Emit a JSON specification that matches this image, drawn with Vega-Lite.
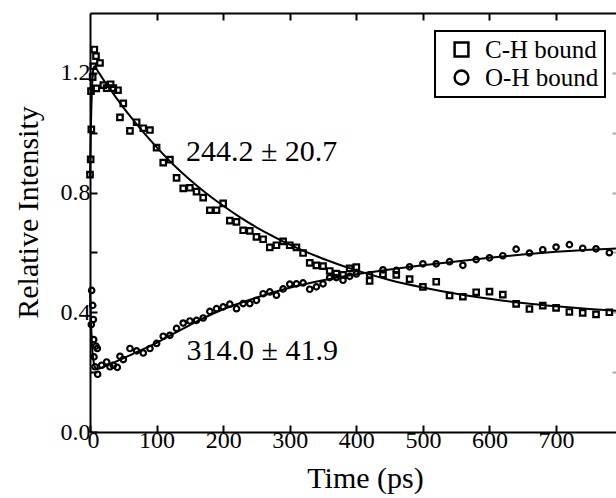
{
  "$schema": "https://vega.github.io/schema/vega-lite/v6.json",
  "width": 526,
  "height": 419,
  "autosize": {"type": "none"},
  "padding": {"left": 90, "top": 13, "right": 0, "bottom": 66},
  "background": "white",
  "config": {
    "view": {"stroke": null},
    "font": "Liberation Serif, serif",
    "axis": {
      "domainColor": "black", "domainWidth": 2,
      "tickColor": "black", "tickWidth": 2, "tickSize": -7,
      "labelFont": "Liberation Serif, serif", "labelFontSize": 24, "labelColor": "black",
      "titleFont": "Liberation Serif, serif", "titleFontSize": 30, "titleFontWeight": "normal", "titleColor": "black",
      "grid": false, "labelOverlap": false, "labelBound": false, "labelFlush": false
    },
    "legend": {
      "labelFont": "Liberation Serif, serif", "labelFontSize": 25, "labelColor": "black",
      "strokeColor": "black", "strokeWidth": 2
    }
  },
  "datasets": {
    "pts": [
      {"t": 0, "v": 0.86, "s": "C-H bound"},
      {"t": 1, "v": 0.911, "s": "C-H bound"},
      {"t": 2, "v": 1.011, "s": "C-H bound"},
      {"t": 1.5, "v": 1.139, "s": "C-H bound"},
      {"t": 4, "v": 1.186, "s": "C-H bound"},
      {"t": 5, "v": 1.222, "s": "C-H bound"},
      {"t": 6.5, "v": 1.278, "s": "C-H bound"},
      {"t": 9, "v": 1.256, "s": "C-H bound"},
      {"t": 9.5, "v": 1.148, "s": "C-H bound"},
      {"t": 15, "v": 1.233, "s": "C-H bound"},
      {"t": 20, "v": 1.159, "s": "C-H bound"},
      {"t": 25, "v": 1.149, "s": "C-H bound"},
      {"t": 31, "v": 1.162, "s": "C-H bound"},
      {"t": 35, "v": 1.149, "s": "C-H bound"},
      {"t": 42, "v": 1.142, "s": "C-H bound"},
      {"t": 45, "v": 1.051, "s": "C-H bound"},
      {"t": 50, "v": 1.098, "s": "C-H bound"},
      {"t": 60, "v": 1.006, "s": "C-H bound"},
      {"t": 70, "v": 1.035, "s": "C-H bound"},
      {"t": 80, "v": 1.015, "s": "C-H bound"},
      {"t": 90, "v": 1.009, "s": "C-H bound"},
      {"t": 100, "v": 0.95, "s": "C-H bound"},
      {"t": 110, "v": 0.9, "s": "C-H bound"},
      {"t": 120, "v": 0.91, "s": "C-H bound"},
      {"t": 130, "v": 0.849, "s": "C-H bound"},
      {"t": 140, "v": 0.814, "s": "C-H bound"},
      {"t": 150, "v": 0.816, "s": "C-H bound"},
      {"t": 160, "v": 0.803, "s": "C-H bound"},
      {"t": 170, "v": 0.783, "s": "C-H bound"},
      {"t": 180, "v": 0.741, "s": "C-H bound"},
      {"t": 190, "v": 0.741, "s": "C-H bound"},
      {"t": 200, "v": 0.764, "s": "C-H bound"},
      {"t": 210, "v": 0.706, "s": "C-H bound"},
      {"t": 220, "v": 0.702, "s": "C-H bound"},
      {"t": 230, "v": 0.674, "s": "C-H bound"},
      {"t": 240, "v": 0.672, "s": "C-H bound"},
      {"t": 250, "v": 0.652, "s": "C-H bound"},
      {"t": 260, "v": 0.644, "s": "C-H bound"},
      {"t": 270, "v": 0.617, "s": "C-H bound"},
      {"t": 280, "v": 0.624, "s": "C-H bound"},
      {"t": 290, "v": 0.637, "s": "C-H bound"},
      {"t": 300, "v": 0.624, "s": "C-H bound"},
      {"t": 310, "v": 0.617, "s": "C-H bound"},
      {"t": 320, "v": 0.598, "s": "C-H bound"},
      {"t": 330, "v": 0.565, "s": "C-H bound"},
      {"t": 340, "v": 0.557, "s": "C-H bound"},
      {"t": 350, "v": 0.554, "s": "C-H bound"},
      {"t": 360, "v": 0.538, "s": "C-H bound"},
      {"t": 370, "v": 0.529, "s": "C-H bound"},
      {"t": 380, "v": 0.525, "s": "C-H bound"},
      {"t": 390, "v": 0.547, "s": "C-H bound"},
      {"t": 400, "v": 0.551, "s": "C-H bound"},
      {"t": 420, "v": 0.505, "s": "C-H bound"},
      {"t": 440, "v": 0.527, "s": "C-H bound"},
      {"t": 460, "v": 0.525, "s": "C-H bound"},
      {"t": 480, "v": 0.511, "s": "C-H bound"},
      {"t": 500, "v": 0.485, "s": "C-H bound"},
      {"t": 520, "v": 0.502, "s": "C-H bound"},
      {"t": 540, "v": 0.456, "s": "C-H bound"},
      {"t": 560, "v": 0.452, "s": "C-H bound"},
      {"t": 580, "v": 0.467, "s": "C-H bound"},
      {"t": 600, "v": 0.469, "s": "C-H bound"},
      {"t": 620, "v": 0.459, "s": "C-H bound"},
      {"t": 640, "v": 0.428, "s": "C-H bound"},
      {"t": 660, "v": 0.411, "s": "C-H bound"},
      {"t": 680, "v": 0.422, "s": "C-H bound"},
      {"t": 700, "v": 0.415, "s": "C-H bound"},
      {"t": 720, "v": 0.401, "s": "C-H bound"},
      {"t": 740, "v": 0.398, "s": "C-H bound"},
      {"t": 760, "v": 0.393, "s": "C-H bound"},
      {"t": 780, "v": 0.4, "s": "C-H bound"},
      {"t": 2.5, "v": 0.473, "s": "O-H bound"},
      {"t": 4, "v": 0.423, "s": "O-H bound"},
      {"t": 5, "v": 0.376, "s": "O-H bound"},
      {"t": 2, "v": 0.359, "s": "O-H bound"},
      {"t": 5.5, "v": 0.309, "s": "O-H bound"},
      {"t": 9, "v": 0.287, "s": "O-H bound"},
      {"t": 11, "v": 0.279, "s": "O-H bound"},
      {"t": 6, "v": 0.251, "s": "O-H bound"},
      {"t": 7.5, "v": 0.218, "s": "O-H bound"},
      {"t": 11.5, "v": 0.193, "s": "O-H bound"},
      {"t": 17.5, "v": 0.223, "s": "O-H bound"},
      {"t": 25, "v": 0.234, "s": "O-H bound"},
      {"t": 30, "v": 0.218, "s": "O-H bound"},
      {"t": 35, "v": 0.223, "s": "O-H bound"},
      {"t": 41, "v": 0.216, "s": "O-H bound"},
      {"t": 45, "v": 0.253, "s": "O-H bound"},
      {"t": 50, "v": 0.242, "s": "O-H bound"},
      {"t": 60, "v": 0.279, "s": "O-H bound"},
      {"t": 70, "v": 0.271, "s": "O-H bound"},
      {"t": 80, "v": 0.264, "s": "O-H bound"},
      {"t": 90, "v": 0.279, "s": "O-H bound"},
      {"t": 100, "v": 0.296, "s": "O-H bound"},
      {"t": 110, "v": 0.32, "s": "O-H bound"},
      {"t": 120, "v": 0.323, "s": "O-H bound"},
      {"t": 130, "v": 0.346, "s": "O-H bound"},
      {"t": 140, "v": 0.364, "s": "O-H bound"},
      {"t": 150, "v": 0.371, "s": "O-H bound"},
      {"t": 160, "v": 0.373, "s": "O-H bound"},
      {"t": 170, "v": 0.381, "s": "O-H bound"},
      {"t": 180, "v": 0.403, "s": "O-H bound"},
      {"t": 190, "v": 0.412, "s": "O-H bound"},
      {"t": 200, "v": 0.418, "s": "O-H bound"},
      {"t": 210, "v": 0.427, "s": "O-H bound"},
      {"t": 220, "v": 0.412, "s": "O-H bound"},
      {"t": 230, "v": 0.429, "s": "O-H bound"},
      {"t": 240, "v": 0.429, "s": "O-H bound"},
      {"t": 250, "v": 0.44, "s": "O-H bound"},
      {"t": 260, "v": 0.462, "s": "O-H bound"},
      {"t": 270, "v": 0.468, "s": "O-H bound"},
      {"t": 280, "v": 0.457, "s": "O-H bound"},
      {"t": 290, "v": 0.478, "s": "O-H bound"},
      {"t": 300, "v": 0.494, "s": "O-H bound"},
      {"t": 310, "v": 0.495, "s": "O-H bound"},
      {"t": 320, "v": 0.498, "s": "O-H bound"},
      {"t": 330, "v": 0.477, "s": "O-H bound"},
      {"t": 340, "v": 0.485, "s": "O-H bound"},
      {"t": 350, "v": 0.495, "s": "O-H bound"},
      {"t": 360, "v": 0.516, "s": "O-H bound"},
      {"t": 370, "v": 0.516, "s": "O-H bound"},
      {"t": 380, "v": 0.507, "s": "O-H bound"},
      {"t": 390, "v": 0.52, "s": "O-H bound"},
      {"t": 400, "v": 0.528, "s": "O-H bound"},
      {"t": 420, "v": 0.525, "s": "O-H bound"},
      {"t": 440, "v": 0.542, "s": "O-H bound"},
      {"t": 460, "v": 0.54, "s": "O-H bound"},
      {"t": 480, "v": 0.552, "s": "O-H bound"},
      {"t": 500, "v": 0.562, "s": "O-H bound"},
      {"t": 520, "v": 0.562, "s": "O-H bound"},
      {"t": 540, "v": 0.569, "s": "O-H bound"},
      {"t": 560, "v": 0.557, "s": "O-H bound"},
      {"t": 580, "v": 0.576, "s": "O-H bound"},
      {"t": 600, "v": 0.582, "s": "O-H bound"},
      {"t": 620, "v": 0.589, "s": "O-H bound"},
      {"t": 640, "v": 0.611, "s": "O-H bound"},
      {"t": 660, "v": 0.598, "s": "O-H bound"},
      {"t": 680, "v": 0.609, "s": "O-H bound"},
      {"t": 700, "v": 0.618, "s": "O-H bound"},
      {"t": 720, "v": 0.626, "s": "O-H bound"},
      {"t": 740, "v": 0.614, "s": "O-H bound"},
      {"t": 760, "v": 0.612, "s": "O-H bound"},
      {"t": 780, "v": 0.599, "s": "O-H bound"}
    ],
    "fit": [
      {"t": 0, "v": 0.85, "s": "CH"},
      {"t": 1, "v": 0.98, "s": "CH"},
      {"t": 2, "v": 1.08, "s": "CH"},
      {"t": 3, "v": 1.15, "s": "CH"},
      {"t": 4, "v": 1.19, "s": "CH"},
      {"t": 5, "v": 1.213, "s": "CH"},
      {"t": 7, "v": 1.222, "s": "CH"},
      {"t": 10, "v": 1.212, "s": "CH"},
      {"t": 20, "v": 1.178, "s": "CH"},
      {"t": 30, "v": 1.146, "s": "CH"},
      {"t": 40, "v": 1.115, "s": "CH"},
      {"t": 50, "v": 1.085, "s": "CH"},
      {"t": 60, "v": 1.056, "s": "CH"},
      {"t": 80, "v": 1.002, "s": "CH"},
      {"t": 100, "v": 0.952, "s": "CH"},
      {"t": 125, "v": 0.894, "s": "CH"},
      {"t": 150, "v": 0.843, "s": "CH"},
      {"t": 175, "v": 0.797, "s": "CH"},
      {"t": 200, "v": 0.756, "s": "CH"},
      {"t": 225, "v": 0.718, "s": "CH"},
      {"t": 250, "v": 0.684, "s": "CH"},
      {"t": 275, "v": 0.654, "s": "CH"},
      {"t": 300, "v": 0.626, "s": "CH"},
      {"t": 350, "v": 0.579, "s": "CH"},
      {"t": 400, "v": 0.54, "s": "CH"},
      {"t": 450, "v": 0.508, "s": "CH"},
      {"t": 500, "v": 0.483, "s": "CH"},
      {"t": 550, "v": 0.462, "s": "CH"},
      {"t": 600, "v": 0.445, "s": "CH"},
      {"t": 650, "v": 0.431, "s": "CH"},
      {"t": 700, "v": 0.42, "s": "CH"},
      {"t": 750, "v": 0.411, "s": "CH"},
      {"t": 790, "v": 0.405, "s": "CH"},
      {"t": 0, "v": 0.47, "s": "OH"},
      {"t": 1, "v": 0.4, "s": "OH"},
      {"t": 2, "v": 0.34, "s": "OH"},
      {"t": 3, "v": 0.29, "s": "OH"},
      {"t": 4, "v": 0.26, "s": "OH"},
      {"t": 6, "v": 0.228, "s": "OH"},
      {"t": 8, "v": 0.214, "s": "OH"},
      {"t": 10, "v": 0.21, "s": "OH"},
      {"t": 25, "v": 0.222, "s": "OH"},
      {"t": 50, "v": 0.246, "s": "OH"},
      {"t": 75, "v": 0.272, "s": "OH"},
      {"t": 100, "v": 0.298, "s": "OH"},
      {"t": 125, "v": 0.328, "s": "OH"},
      {"t": 150, "v": 0.357, "s": "OH"},
      {"t": 175, "v": 0.385, "s": "OH"},
      {"t": 200, "v": 0.41, "s": "OH"},
      {"t": 250, "v": 0.449, "s": "OH"},
      {"t": 300, "v": 0.482, "s": "OH"},
      {"t": 350, "v": 0.507, "s": "OH"},
      {"t": 400, "v": 0.527, "s": "OH"},
      {"t": 450, "v": 0.543, "s": "OH"},
      {"t": 500, "v": 0.557, "s": "OH"},
      {"t": 550, "v": 0.57, "s": "OH"},
      {"t": 600, "v": 0.582, "s": "OH"},
      {"t": 650, "v": 0.593, "s": "OH"},
      {"t": 700, "v": 0.602, "s": "OH"},
      {"t": 750, "v": 0.609, "s": "OH"},
      {"t": 790, "v": 0.613, "s": "OH"}
    ],
    "ann": [
      {"t": 144, "v": 0.907, "label": "244.2 ± 20.7"},
      {"t": 145, "v": 0.24, "label": "314.0 ± 41.9"}
    ]
  },
  "layer": [
    {
      "data": {"name": "fit"},
      "mark": {"type": "line", "color": "black", "strokeWidth": 2, "interpolate": "monotone"},
      "encoding": {
        "x": {
          "field": "t", "type": "quantitative",
          "scale": {"domain": [0, 790], "nice": false, "zero": false},
          "axis": {
            "orient": "bottom", "title": "Time (ps)",
            "values": [0, 100, 200, 300, 400, 500, 600, 700],
            "labelPadding": 3,
            "labelOffset": {"condition": {"test": "datum.value == 0", "value": 3}, "value": 0},
            "titleX": 275, "titleY": 55, "titleBaseline": "alphabetic", "titleAlign": "center"
          }
        },
        "y": {
          "field": "v", "type": "quantitative",
          "scale": {"domain": [0, 1.4], "nice": false, "zero": false},
          "axis": {
            "orient": "left", "title": "Relative Intensity",
            "values": [0, 0.2, 0.4, 0.6, 0.8, 1.0, 1.2],
            "labelExpr": "datum.value == 0 || datum.value == 0.4 || datum.value == 0.8 || datum.value == 1.2 ? format(datum.value, '.1f') : ''",
            "labelPadding": 7,
            "titleX": -62, "titleY": 199, "titleBaseline": "middle", "titleAlign": "center", "titleAngle": 270
          }
        },
        "detail": {"field": "s"}
      }
    },
    {
      "data": {"name": "pts"},
      "mark": {"type": "point", "filled": false, "stroke": "black", "strokeWidth": 2.2, "size": 30, "opacity": 1},
      "encoding": {
        "x": {
          "field": "t", "type": "quantitative",
          "axis": {"orient": "top", "labels": false, "title": null, "values": [100, 200, 300, 400, 500, 600, 700]}
        },
        "y": {
          "field": "v", "type": "quantitative",
          "axis": {"orient": "right", "labels": false, "title": null, "domain": false, "tickSize": -4, "tickColor": "#aaaaaa", "values": [0.2, 0.4, 0.6, 0.8, 1.0, 1.2]}
        },
        "shape": {
          "field": "s", "type": "nominal",
          "scale": {"domain": ["C-H bound", "O-H bound"], "range": ["square", "circle"]},
          "legend": {
            "title": null, "orient": "none", "legendX": 345, "legendY": 18,
            "padding": 6,
            "symbolSize": 190, "symbolStrokeWidth": 2.5, "symbolStrokeColor": "black", "symbolFillColor": "transparent",
            "symbolOffset": 8, "labelOffset": 11, "rowPadding": 2
          }
        }
      }
    },
    {
      "data": {"name": "ann"},
      "mark": {"type": "text", "align": "left", "baseline": "alphabetic", "fontSize": 30, "font": "Liberation Serif, serif", "color": "black"},
      "encoding": {
        "x": {"field": "t", "type": "quantitative", "axis": null},
        "y": {"field": "v", "type": "quantitative", "axis": null},
        "text": {"field": "label"}
      }
    }
  ],
  "resolve": {"axis": {"x": "independent", "y": "independent"}}
}
